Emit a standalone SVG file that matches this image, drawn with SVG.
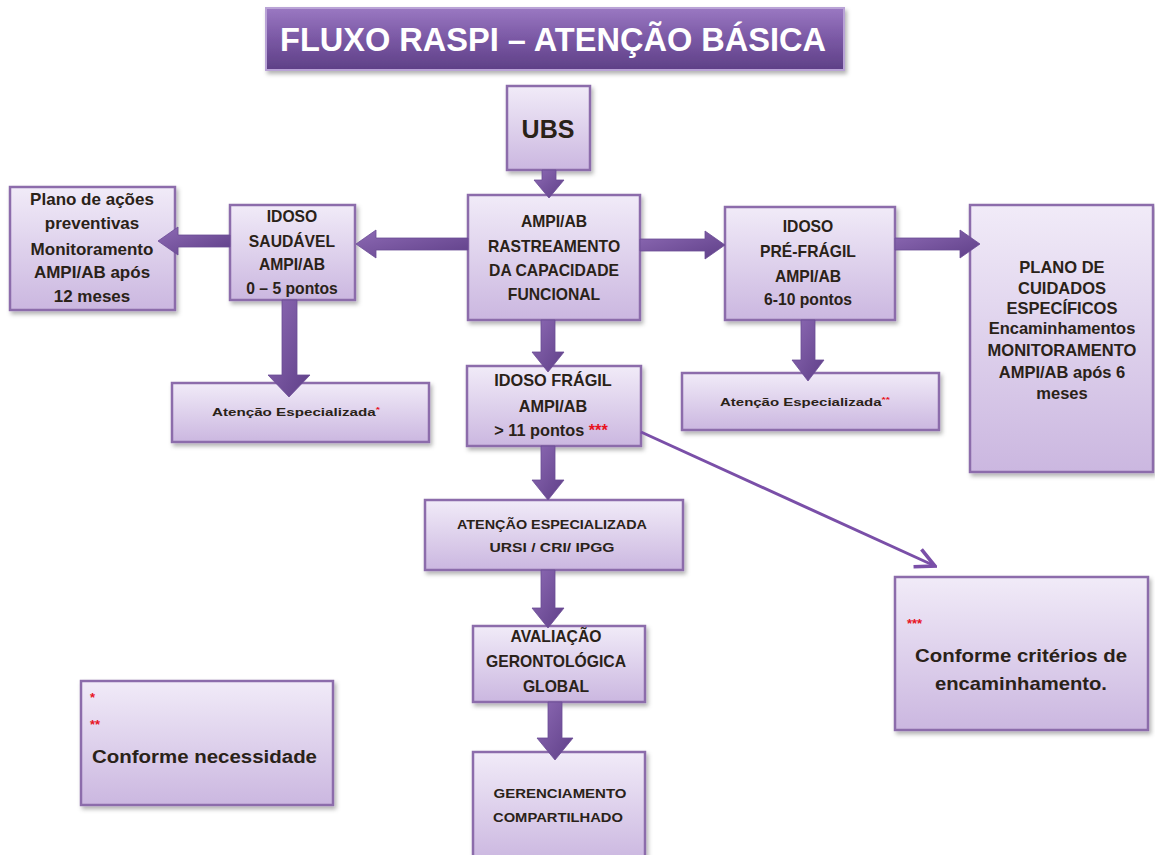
<svg xmlns="http://www.w3.org/2000/svg" width="1155" height="855" viewBox="0 0 1155 855">
<defs>
<linearGradient id="boxg" x1="0" y1="0" x2="0" y2="1">
<stop offset="0" stop-color="#f1ebf8"/>
<stop offset="1" stop-color="#cbb7e0"/>
</linearGradient>
<linearGradient id="titleg" x1="0" y1="0" x2="0" y2="1">
<stop offset="0" stop-color="#9a78c2"/>
<stop offset="0.5" stop-color="#7a58a4"/>
<stop offset="1" stop-color="#5e4086"/>
</linearGradient>
<linearGradient id="arrg" x1="0" y1="0" x2="1" y2="1">
<stop offset="0" stop-color="#8d6ab4"/>
<stop offset="1" stop-color="#5f3f88"/>
</linearGradient>
<filter id="sh" x="-10%" y="-10%" width="130%" height="130%">
<feDropShadow dx="2" dy="3" stdDeviation="2" flood-color="#000" flood-opacity="0.3"/>
</filter>
<marker id="open" viewBox="0 0 20 20" refX="18" refY="10" markerWidth="8" markerHeight="8" orient="auto" markerUnits="strokeWidth">
<path d="M2,2 L18,10 L2,18" fill="none" stroke="#7a4fa8" stroke-width="3"/>
</marker>
<style>
.box{fill:url(#boxg);stroke:#8c6cab;stroke-width:2.5;filter:url(#sh)}
.t{font-family:"Liberation Sans",Arial,sans-serif;font-weight:bold;fill:#2a2218;text-anchor:middle}
.m{font-size:15.7px}
.l{font-size:17px}
.s{font-size:11px}
.r{fill:#e8141e}
.arr{fill:url(#arrg);stroke:#6b4b95;stroke-width:0.8}
</style>
</defs>

<g id="title">
<rect x="266" y="8" width="578" height="62" fill="url(#titleg)" stroke="#b9a3d6" stroke-width="2" filter="url(#sh)"/>
<text x="553" y="51" class="t" style="fill:#fff;font-size:33px" textLength="546" lengthAdjust="spacingAndGlyphs">FLUXO RASPI – ATENÇÃO BÁSICA</text>
</g>

<g id="ubs">
<rect class="box" x="507" y="86" width="83" height="84"/>
<text x="548" y="138" class="t" style="font-size:25px">UBS</text>
</g>

<g id="ampi">
<rect class="box" x="468" y="195" width="172" height="125"/>
<text class="t m"><tspan x="554" y="227">AMPI/AB</tspan><tspan x="554" y="252">RASTREAMENTO</tspan><tspan x="554" y="276">DA CAPACIDADE</tspan><tspan x="554" y="300">FUNCIONAL</tspan></text>
</g>

<g id="saudavel">
<rect class="box" x="230" y="205" width="125" height="95"/>
<text class="t m"><tspan x="292" y="222">IDOSO</tspan><tspan x="292" y="247">SAUDÁVEL</tspan><tspan x="292" y="270">AMPI/AB</tspan><tspan x="292" y="294">0 – 5 pontos</tspan></text>
</g>

<g id="plano">
<rect class="box" x="10" y="187" width="165" height="123"/>
<text class="t l"><tspan x="92" y="205">Plano de ações</tspan><tspan x="92" y="229">preventivas</tspan><tspan x="92" y="255">Monitoramento</tspan><tspan x="92" y="278">AMPI/AB  após</tspan><tspan x="92" y="302">12 meses</tspan></text>
</g>

<g id="prefragil">
<rect class="box" x="725" y="207" width="170" height="113"/>
<text class="t m"><tspan x="808" y="232">IDOSO</tspan><tspan x="808" y="257">PRÉ-FRÁGIL</tspan><tspan x="808" y="282">AMPI/AB</tspan><tspan x="808" y="305">6-10 pontos</tspan></text>
</g>

<g id="cuidados">
<rect class="box" x="970" y="205" width="183" height="267"/>
<text class="t" style="font-size:16.5px"><tspan x="1062" y="273">PLANO  DE</tspan><tspan x="1062" y="294">CUIDADOS</tspan><tspan x="1062" y="314">ESPECÍFICOS</tspan><tspan x="1062" y="334">Encaminhamentos</tspan><tspan x="1062" y="356">MONITORAMENTO</tspan><tspan x="1062" y="378">AMPI/AB após  6</tspan><tspan x="1062" y="399">meses</tspan></text>
</g>

<g id="atencao1">
<rect class="box" x="172" y="383" width="257" height="59"/>
<text x="296" y="416" class="t s" textLength="168" lengthAdjust="spacingAndGlyphs">Atenção  Especializada<tspan class="r" dy="-4" style="font-size:8px">*</tspan></text>
</g>

<g id="fragil">
<rect class="box" x="467" y="366" width="174" height="80"/>
<text class="t" style="font-size:16.3px"><tspan x="553" y="386">IDOSO  FRÁGIL</tspan><tspan x="553" y="412">AMPI/AB</tspan><tspan x="551" y="436">&gt; 11 pontos <tspan class="r">***</tspan></tspan></text>
</g>

<g id="atencao2">
<rect class="box" x="682" y="373" width="257" height="57"/>
<text x="805" y="406" class="t s" textLength="170" lengthAdjust="spacingAndGlyphs">Atenção  Especializada<tspan class="r" dy="-4" style="font-size:8px">**</tspan></text>
</g>

<g id="atencao3">
<rect class="box" x="425" y="500" width="258" height="70"/>
<text class="t" style="font-size:12px"><tspan x="552" y="529" textLength="190" lengthAdjust="spacingAndGlyphs">ATENÇÃO  ESPECIALIZADA</tspan><tspan x="552" y="552" textLength="125" lengthAdjust="spacingAndGlyphs">URSI / CRI/ IPGG</tspan></text>
</g>

<g id="avaliacao">
<rect class="box" x="473" y="626" width="172" height="76"/>
<text class="t m"><tspan x="556" y="642">AVALIAÇÃO</tspan><tspan x="556" y="667">GERONTOLÓGICA</tspan><tspan x="556" y="692">GLOBAL</tspan></text>
</g>

<g id="gerenciamento">
<rect class="box" x="473" y="752" width="172" height="110"/>
<text class="t" style="font-size:12px"><tspan x="560" y="798" textLength="133" lengthAdjust="spacingAndGlyphs">GERENCIAMENTO</tspan><tspan x="558" y="822" textLength="130" lengthAdjust="spacingAndGlyphs">COMPARTILHADO</tspan></text>
</g>

<g id="legenda1">
<rect class="box" x="81" y="681" width="252" height="124"/>
<text x="90" y="702" class="t r" style="text-anchor:start;font-size:13px">*</text>
<text x="90" y="729" class="t r" style="text-anchor:start;font-size:13px">**</text>
<text x="92" y="763" class="t" style="text-anchor:start;font-size:17.5px" textLength="225" lengthAdjust="spacingAndGlyphs">Conforme  necessidade</text>
</g>

<g id="legenda2">
<rect class="box" x="895" y="577" width="253" height="153"/>
<text x="907" y="628" class="t r" style="text-anchor:start;font-size:13px">***</text>
<text class="t" style="font-size:19px"><tspan x="1021" y="662" textLength="212" lengthAdjust="spacingAndGlyphs">Conforme critérios de</tspan><tspan x="1021" y="690" textLength="172" lengthAdjust="spacingAndGlyphs">encaminhamento.</tspan></text>
</g>

<g id="connectors">
<path class="arr" d="M542,170 L556,170 L556,180 L564,180 L549,198 L534,180 L542,180 Z"/>
<path class="arr" d="M468,238 L376,238 L376,230 L356,244 L376,258 L376,250 L468,250 Z"/>
<path class="arr" d="M230,235 L178,235 L178,227 L158,241 L178,255 L178,247 L230,247 Z"/>
<path class="arr" d="M640,239 L705,239 L705,231 L725,245 L705,259 L705,251 L640,251 Z"/>
<path class="arr" d="M895,238 L960,238 L960,230 L980,244 L960,258 L960,250 L895,250 Z"/>
<path class="arr" d="M282,300 L297,300 L297,375 L310,375 L289,397 L268,375 L282,375 Z"/>
<path class="arr" d="M541,320 L555,320 L555,352 L564,352 L548,372 L532,352 L541,352 Z"/>
<path class="arr" d="M801,320 L815,320 L815,360 L824,360 L808,381 L792,360 L801,360 Z"/>
<path class="arr" d="M541,446 L555,446 L555,480 L564,480 L548,500 L532,480 L541,480 Z"/>
<path class="arr" d="M541,570 L555,570 L555,608 L564,608 L548,628 L532,608 L541,608 Z"/>
<path class="arr" d="M548,702 L562,702 L562,738 L573,738 L555,760 L537,738 L548,738 Z"/>
<line x1="641" y1="432" x2="935" y2="566" stroke="#7a4fa8" stroke-width="3" marker-end="url(#open)"/>
</g>
</svg>
